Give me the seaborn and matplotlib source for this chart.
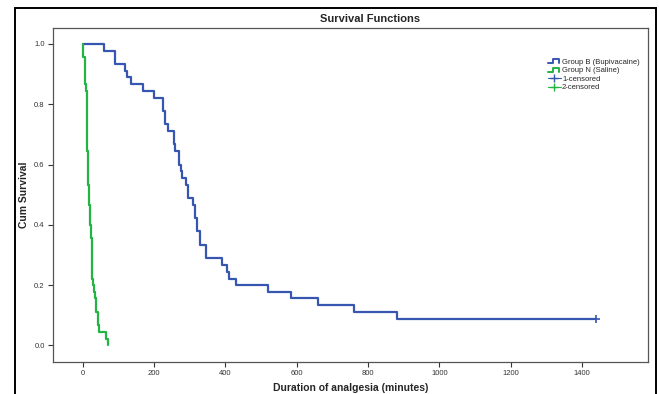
import numpy as np
import pandas as pd
import matplotlib
matplotlib.use("Agg")
import matplotlib.pyplot as plt
from matplotlib.lines import Line2D
from matplotlib.legend_handler import HandlerBase
from matplotlib.patches import Rectangle
import seaborn as sns

# Datos (tiempo en minutos, supervivencia acumulada)
tiempo_b = [0, 60, 90, 120, 125, 135, 170, 200, 225, 230, 240, 255, 260, 270, 275,
            280, 290, 295, 310, 315, 320, 330, 345, 390, 405, 410, 430, 520, 585,
            660, 760, 880, 1440]
surv_b = [1.0, 0.978, 0.933, 0.911, 0.889, 0.867, 0.844, 0.822, 0.778, 0.733, 0.711,
          0.667, 0.644, 0.600, 0.578, 0.556, 0.533, 0.489, 0.467, 0.422, 0.378, 0.333,
          0.289, 0.267, 0.244, 0.222, 0.200, 0.178, 0.156, 0.133, 0.111, 0.089, 0.089]
tiempo_n = [0, 2, 6, 9, 12, 13, 16, 19, 21, 24, 26, 29, 32, 34, 37, 42, 46, 66, 71]
surv_n = [1.0, 0.956, 0.867, 0.844, 0.711, 0.644, 0.533, 0.467, 0.400, 0.356, 0.222,
          0.200, 0.178, 0.156, 0.111, 0.067, 0.044, 0.022, 0.0]
censura_t = [1440]
censura_s = [0.089]

grupos = ["Group B (Bupivacaine)", "Group N (Saline)"]
colores = {"Group B (Bupivacaine)": "#3656b0", "Group N (Saline)": "#22b444"}

df = pd.concat([
    pd.DataFrame({"t": tiempo_b, "s": surv_b, "grupo": grupos[0]}),
    pd.DataFrame({"t": tiempo_n, "s": surv_n, "grupo": grupos[1]}),
])

sns.set_style("white")
plt.rcParams["font.family"] = ["Liberation Sans", "DejaVu Sans"]

fig = plt.figure(figsize=(6.59, 3.94), dpi=100)
ax = fig.add_axes([0.0804, 0.0812, 0.9029, 0.8477])

sns.lineplot(data=df, x="t", y="s", hue="grupo", palette=colores, estimator=None,
             drawstyle="steps-post", linewidth=1.6, legend=False, ax=ax)
sns.scatterplot(x=censura_t, y=censura_s, marker="+", color=colores[grupos[0]],
                s=30, linewidth=1.2, ax=ax)

ax.set_xlim(-83, 1585)
ax.set_ylim(-0.055, 1.053)
ax.set_xticks(range(0, 1401, 200))
ax.set_yticks([0.0, 0.2, 0.4, 0.6, 0.8, 1.0])
ax.set_yticklabels(["0.0", "0.2", "0.4", "0.6", "0.8", "1.0"])
ax.tick_params(axis="both", direction="out", length=3.5, width=0.8, labelsize=5.5,
               colors="#333333", pad=2.5, bottom=True, left=True)
for sp in ax.spines.values():
    sp.set_color("#555555")
    sp.set_linewidth(0.9)
ax.set_xlabel("Duration of analgesia (minutes)", fontsize=7.5, fontweight="bold", labelpad=4)
ax.set_ylabel("Cum Survival", fontsize=7.5, fontweight="bold", labelpad=4)


# icono escalonado para la leyenda
class HandlerEscalon(HandlerBase):
    def create_artists(self, legend, orig_handle, xdescent, ydescent, width, height,
                       fontsize, trans):
        x0 = -xdescent
        xs = [x0, x0 + width * 0.45, x0 + width * 0.45, x0 + width * 0.9, x0 + width * 0.9]
        ys = [height * 0.1, height * 0.1, height * 0.85, height * 0.85, height * 0.1]
        ln = Line2D(xs, ys, color=orig_handle.get_color(), lw=1.4, transform=trans)
        return [ln]


h1 = Line2D([], [], color=colores[grupos[0]])
h2 = Line2D([], [], color=colores[grupos[1]])
h3 = Line2D([], [], color=colores[grupos[0]], marker="+", linestyle="-", lw=0.8, markersize=6)
h4 = Line2D([], [], color=colores[grupos[1]], marker="+", linestyle="-", lw=0.8, markersize=6)
ax.legend([h1, h2, h3, h4], [grupos[0], grupos[1], "1-censored", "2-censored"],
          handler_map={h1: HandlerEscalon(), h2: HandlerEscalon()},
          loc="upper left", bbox_to_anchor=(0.826, 0.918), frameon=False, fontsize=5.5,
          handlelength=1.7, handletextpad=0.2, labelspacing=0.15, borderaxespad=0)

fig.text(0.561, 0.952, "Survival Functions", ha="center", va="center",
         fontsize=8, fontweight="bold")

# marco exterior
fig.patches.append(Rectangle((15 / 659, -0.05), 641 / 659, 1 - 8 / 394 + 0.05,
                             transform=fig.transFigure, fill=False, edgecolor="black",
                             linewidth=1.4))

fig.savefig("out.png", dpi=100)
